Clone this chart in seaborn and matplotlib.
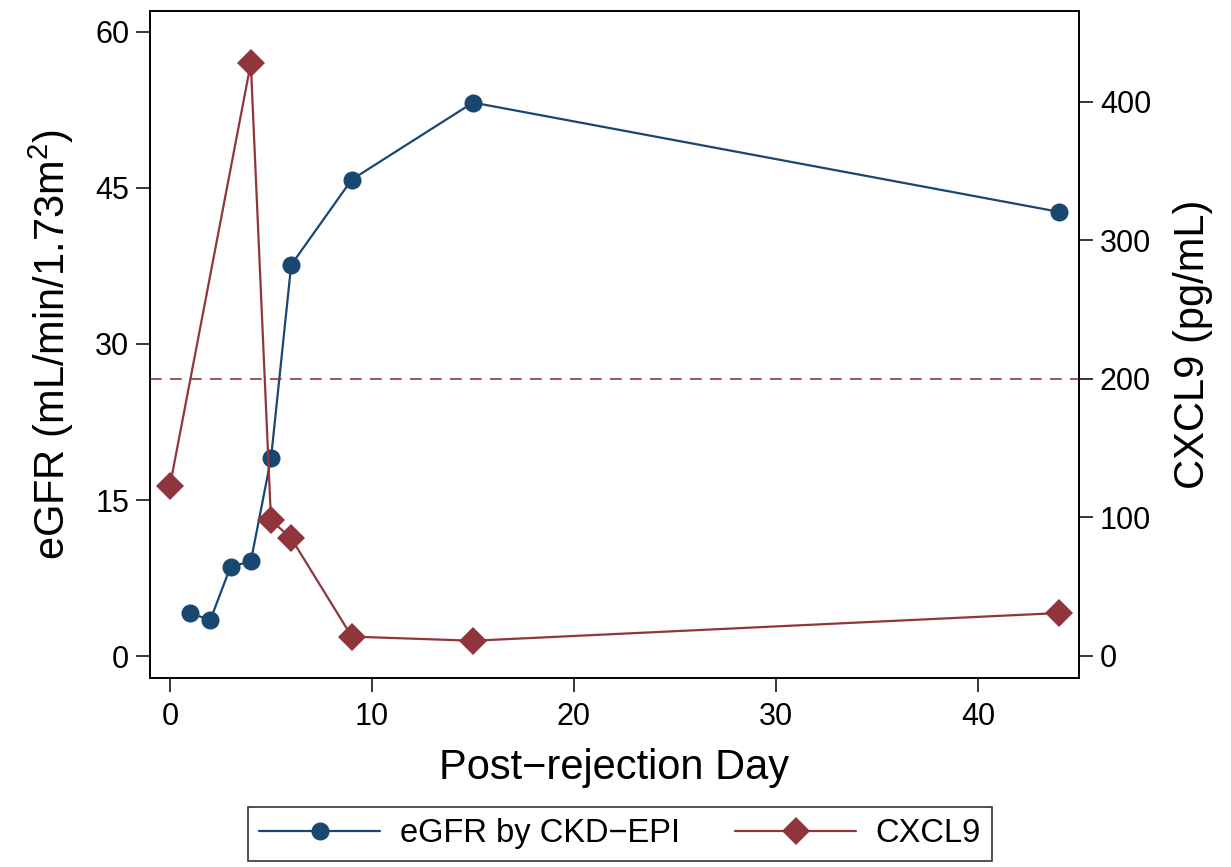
import matplotlib
matplotlib.use("Agg")
import matplotlib.pyplot as plt
import seaborn as sns
from matplotlib.lines import Line2D

# -----------------------------
# Data
# -----------------------------
egfr_days = [1, 2, 3, 4, 5, 6, 9, 15, 44]
egfr_values = [4.1, 3.5, 8.6, 9.1, 19.0, 37.6, 45.8, 53.2, 42.7]

cxcl9_days = [0, 4, 5, 6, 9, 15, 44]
cxcl9_values = [123, 428, 98, 85, 14, 11, 31]

cxcl9_threshold = 200

x_ticks = [0, 10, 20, 30, 40]
egfr_ticks = [0, 15, 30, 45, 60]
cxcl9_ticks = [0, 100, 200, 300, 400]

navy = "#1a476f"
maroon = "#90353b"

# -----------------------------
# Style
# -----------------------------
sns.set_style("ticks")
plt.rcParams["font.family"] = ["Liberation Sans", "DejaVu Sans"]
plt.rcParams["mathtext.fontset"] = "custom"
plt.rcParams["mathtext.rm"] = "Liberation Sans"
plt.rcParams["mathtext.it"] = "Liberation Sans"
plt.rcParams["text.color"] = "black"
plt.rcParams["axes.labelcolor"] = "black"

fig = plt.figure(figsize=(12.31, 8.67), dpi=100)
ax = fig.add_axes([150 / 1231, 1 - 678 / 867, 929 / 1231, 667 / 867])
ax2 = ax.twinx()

# -----------------------------
# Lines
# -----------------------------
sns.lineplot(x=egfr_days, y=egfr_values, ax=ax, color=navy, marker="o",
             markersize=13, markeredgewidth=0, linewidth=1.6)

sns.lineplot(x=cxcl9_days, y=cxcl9_values, ax=ax2, color=maroon, marker="D",
             markersize=14, markeredgewidth=0, linewidth=1.6)
ax2.axhline(cxcl9_threshold, color=maroon, linestyle=(0, (7, 5)), linewidth=1.2)

# -----------------------------
# Axes
# -----------------------------
ax.set_xlim(-0.99, 45.0)
ax.set_ylim(-2.1, 62.0)
ax2.set_ylim(-15.9, 465.7)

ax.set_xticks(x_ticks)
ax.set_yticks(egfr_ticks)
ax2.set_yticks(cxcl9_ticks)

for a in (ax, ax2):
    for s in a.spines.values():
        s.set_color("black")
        s.set_linewidth(1.2)
    a.tick_params(axis="both", length=10, width=1.1, labelsize=22, pad=5,
                  color="black", labelcolor="black")
ax.tick_params(axis="x", pad=7)

ax.set_xlabel("Post\u2212rejection Day", fontsize=30, labelpad=12)
ax.set_ylabel(r"eGFR (mL/min/1.73m$^{2}$)", fontsize=30, labelpad=14)
ax2.set_ylabel("CXCL9 (pg/mL)", fontsize=30, labelpad=16)

# -----------------------------
# Legend
# -----------------------------
handles = [
    Line2D([], [], color=navy, marker="o", markersize=13, markeredgewidth=0, linewidth=1.6),
    Line2D([], [], color=maroon, marker="D", markersize=14, markeredgewidth=0, linewidth=1.6),
]
leg = fig.legend(handles, ["eGFR by CKD\u2212EPI", "CXCL9"], loc="upper center",
                 bbox_to_anchor=(620 / 1231, 1 - 807 / 867), ncol=2, fontsize=23.5,
                 frameon=True, fancybox=False, edgecolor="black", handlelength=3.7,
                 columnspacing=1.7, borderpad=0.35, handletextpad=0.6,
                 borderaxespad=0)
leg.get_frame().set_linewidth(1.2)

plt.savefig("out.png", dpi=100)
